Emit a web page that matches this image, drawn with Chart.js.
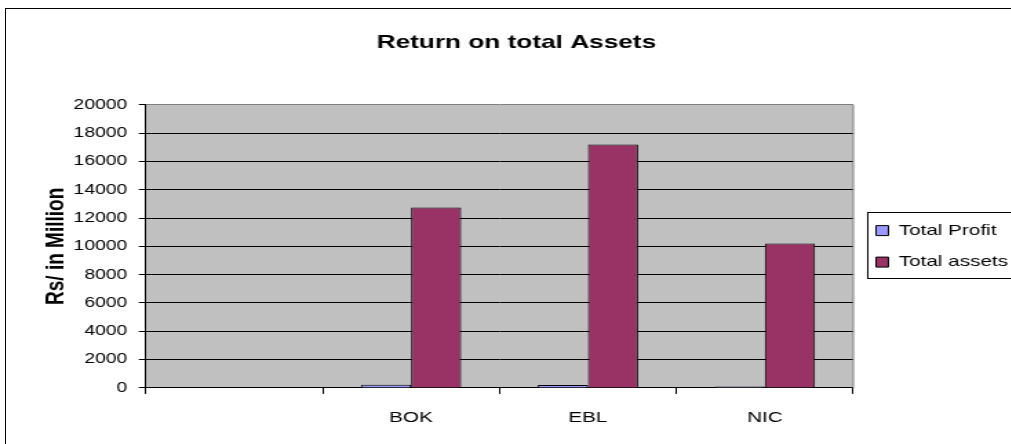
<!DOCTYPE html>
<html><head><meta charset="utf-8">
<script src="https://cdn.jsdelivr.net/npm/chart.js@4/dist/chart.umd.min.js"></script>
<style>
html,body{margin:0;padding:0;width:1011px;height:444px;overflow:hidden;background:#fff;}
#frame{position:absolute;left:5px;top:8px;width:2000px;height:1000px;border-left:1px solid #000;border-top:1px solid #000;box-sizing:border-box;}
#c{position:absolute;left:0;top:0;width:1027px;height:444px;}
</style></head><body>
<div id="frame"></div>
<canvas id="c" width="745" height="444" style="width:1027px;height:444px"></canvas>
<script>
const categories = ['', 'BOK', 'EBL', 'NIC'];
const totalProfit = [null, 215, 205, 95];
const totalAssets = [null, 12750, 17200, 10200];
const yMin = 0, yMax = 20000, yStep = 2000;
const seriesNames = ['Total Profit', 'Total assets'];
const chartTitle = 'Return on total Assets';
const yTitle = 'Rs/ in Million';

const FONT = '"Liberation Sans", Arial, sans-serif';
Chart.defaults.color = '#000';
Chart.defaults.font.family = FONT;

const plotBg = {
  id: 'plotBg',
  beforeDraw(chart) {
    const {ctx, chartArea: a} = chart;
    ctx.save();
    ctx.fillStyle = '#C0C0C0';
    ctx.fillRect(a.left, a.top, a.right - a.left, a.bottom - a.top);
    ctx.restore();
  },
  afterDatasetsDraw(chart) {
    const {ctx, chartArea: a} = chart;
    ctx.save();
    ctx.strokeStyle = '#808080';
    ctx.lineWidth = 1;
    ctx.beginPath();
    ctx.moveTo(a.right, a.top);
    ctx.lineTo(a.right, a.bottom);
    ctx.stroke();
    ctx.restore();
  },
  afterDraw(chart) {
    const lg = chart.legend;
    if (!lg || !lg.legendHitBoxes || !lg.legendHitBoxes.length) return;
    const hb = lg.legendHitBoxes;
    const top = hb[0].top - 11;
    const bottom = hb[hb.length - 1].top + hb[hb.length - 1].height + 8;
    const left = lg.left + 10.5;
    const ctx = chart.ctx;
    ctx.save();
    ctx.strokeStyle = '#000';
    ctx.lineWidth = 1;
    ctx.strokeRect(Math.round(left) + 0.5, Math.round(top) + 0.5, 400, Math.round(bottom - top));
    ctx.restore();
  }
};

new Chart(document.getElementById('c'), {
  type: 'bar',
  data: {
    labels: categories,
    datasets: [
      { label: seriesNames[0], data: totalProfit, backgroundColor: '#9999FF', borderColor: '#000', borderWidth: 1 },
      { label: seriesNames[1], data: totalAssets, backgroundColor: '#993366', borderColor: '#000', borderWidth: 1 }
    ]
  },
  options: {
    responsive: false,
    devicePixelRatio: 1,
    animation: false,
    events: [],
    categoryPercentage: 0.567,
    barPercentage: 1.0,
    layout: { padding: { left: 8, right: 3.8, top: 0, bottom: 2.7 } },
    plugins: {
      title: {
        display: true, text: chartTitle,
        font: { family: FONT, size: 19, weight: 'bold' },
        color: '#000',
        padding: { top: 31, bottom: 51 }
      },
      legend: {
        position: 'right',
        fullSize: false,
        labels: {
          font: { family: FONT, size: 15 },
          color: '#000',
          boxWidth: 9, boxHeight: 10,
          padding: 16.5
        }
      },
      tooltip: { enabled: false }
    },
    scales: {
      x: {
        grid: { display: true, drawOnChartArea: false, offset: true, tickLength: 6, color: '#000', tickColor: '#000' },
        border: { display: true, color: '#000', width: 1 },
        ticks: { font: { family: FONT, size: 15 }, color: '#000', padding: 14.7, autoSkip: false, maxRotation: 0 }
      },
      y: {
        min: yMin, max: yMax,
        grid: {
          color: c => (c.tick && c.tick.value === yMax) ? '#808080' : '#000',
          lineWidth: 1, tickLength: 5, tickColor: '#000'
        },
        border: { display: true, color: '#000', width: 1 },
        ticks: {
          stepSize: yStep, font: { family: FONT, size: 14 }, color: '#000', padding: 8.4,
          callback: v => String(v)
        },
        title: {
          display: true, text: yTitle,
          font: { family: FONT, size: 19, weight: 'bold' },
          color: '#000',
          padding: { top: 21, bottom: 0 }
        },
        afterFit(scale) { scale.width = 97.7; }
      }
    }
  },
  plugins: [plotBg]
});
</script>
</body></html>
